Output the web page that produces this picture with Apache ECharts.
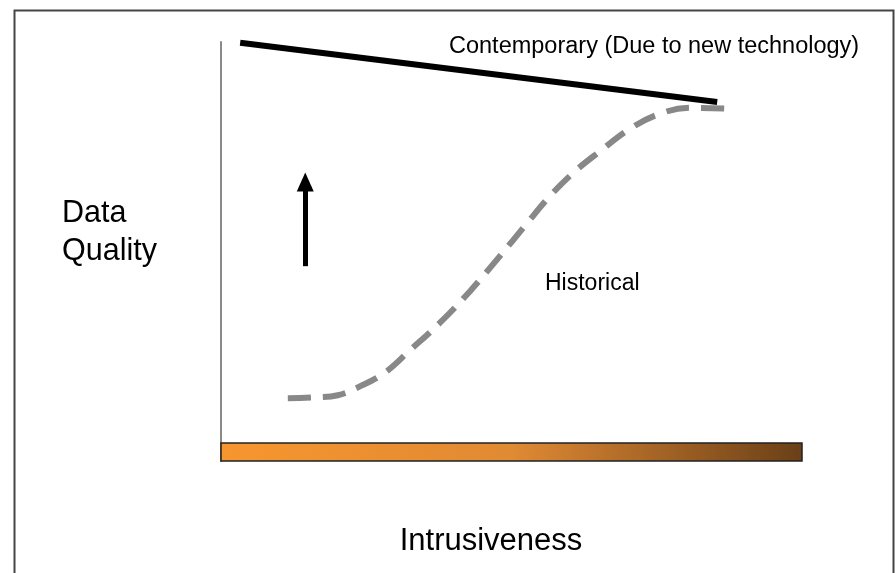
<!DOCTYPE html>
<html>
<head>
<meta charset="utf-8">
<script src="https://cdn.jsdelivr.net/npm/echarts@6/dist/echarts.min.js"></script>
<style>html,body{margin:0;padding:0;background:#fff}#c{width:895px;height:573px}</style>
</head>
<body>
<div id="c"></div>
<script>
// Data (x: intrusiveness 0-100, y: data quality 0-100)
const contemporaryX = [3.3, 85.4];
const contemporaryY = [99.8, 85.7];
const historicalX = [11.5, 16.2, 20.1, 23.9, 28.2, 32.5, 37.7, 42.9, 48.0, 52.3, 56.6, 60.9, 65.2, 70.4, 75.6, 80.7, 87.1];
const historicalY = [15.0, 15.2, 15.7, 17.8, 21.1, 26.4, 33.0, 40.6, 48.9, 56.1, 63.2, 69.1, 73.9, 79.3, 82.9, 84.3, 84.1];
const arrowX = [14.5, 14.5];
const arrowY = [46.5, 66.6];
const barRangeX = [0, 100];
const barRangeY = [0, 4.3];
const labels = {
  contemporary: 'Contemporary (Due to new technology)',
  historical: 'Historical',
  xName: 'Intrusiveness',
  yName: ['Data', 'Quality']
};

const zip = (xs, ys) => xs.map((x, i) => [x, ys[i]]);
const chart = echarts.init(document.getElementById('c'));
const font = 'Liberation Sans, Arial, sans-serif';
chart.setOption({
  animation: false,
  backgroundColor: '#fff',
  grid: { left: 221, right: 93, top: 42, bottom: 112 },
  xAxis: {
    type: 'value', min: 0, max: 100,
    axisLine: { show: false }, axisTick: { show: false }, axisLabel: { show: false }, splitLine: { show: false }
  },
  yAxis: {
    type: 'value', min: 0, max: 100,
    axisLine: { show: true, lineStyle: { color: '#8a8a8a', width: 2 } },
    axisTick: { show: false }, axisLabel: { show: false }, splitLine: { show: false }
  },
  graphic: [
    { type: 'rect', shape: { x: 14.5, y: 10.5, width: 879, height: 572 }, style: { fill: 'none', stroke: '#444', lineWidth: 2 }, z: 100 },
    { type: 'text', x: 449, y: 47, style: { text: labels.contemporary, font: '23.5px ' + font, fill: '#000', verticalAlign: 'middle' } },
    { type: 'text', x: 545, y: 284, style: { text: labels.historical, font: '23px ' + font, fill: '#000', verticalAlign: 'middle' } },
    { type: 'text', x: 491, y: 541, style: { text: labels.xName, font: '31px ' + font, fill: '#000', align: 'center', verticalAlign: 'middle' } },
    { type: 'text', x: 62, y: 214, style: { text: labels.yName[0], font: '30.5px ' + font, fill: '#000', verticalAlign: 'middle' } },
    { type: 'text', x: 62, y: 252, style: { text: labels.yName[1], font: '30.5px ' + font, fill: '#000', verticalAlign: 'middle' } }
  ],
  series: [
    {
      type: 'line', data: [],
      markArea: {
        silent: true,
        itemStyle: {
          color: new echarts.graphic.LinearGradient(0, 0, 1, 0, [
            { offset: 0, color: '#F7962E' },
            { offset: 0.5, color: '#E08A34' },
            { offset: 1, color: '#6A3F17' }
          ]),
          borderColor: '#222', borderWidth: 1.5
        },
        data: [[{ coord: [barRangeX[0], barRangeY[0]] }, { coord: [barRangeX[1], barRangeY[1]] }]]
      }
    },
    {
      type: 'line', data: zip(contemporaryX, contemporaryY), symbol: 'none',
      lineStyle: { color: '#000', width: 6, cap: 'butt' }
    },
    {
      type: 'line', data: zip(historicalX, historicalY), symbol: 'none', smooth: 0.4,
      lineStyle: { color: '#888', width: 6, type: [23, 12], cap: 'butt' }
    },
    {
      type: 'line', data: [],
      markLine: {
        silent: true, symbol: ['none', 'triangle'], symbolSize: [17, 19],
        label: { show: false },
        lineStyle: { color: '#000', width: 5, type: 'solid' },
        data: [[{ coord: [arrowX[0], arrowY[0]] }, { coord: [arrowX[1], arrowY[1]] }]]
      }
    }
  ]
});
</script>
</body>
</html>
